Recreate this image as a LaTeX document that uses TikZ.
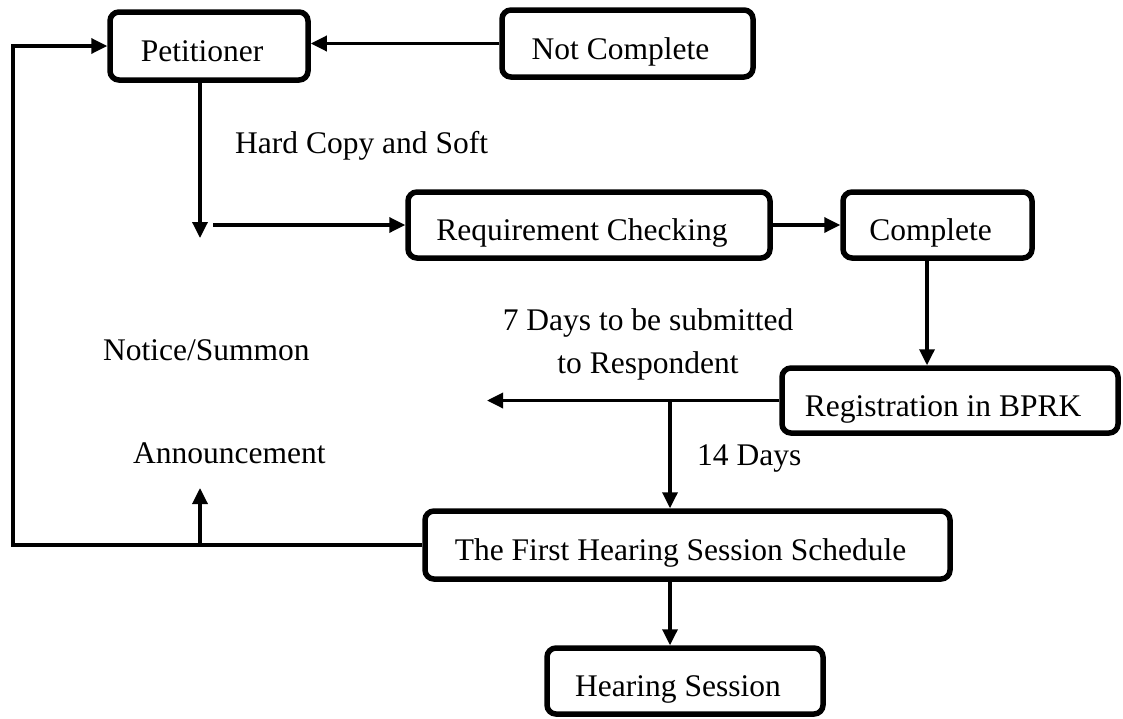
\documentclass[tikz,border=0pt]{standalone}
\usepackage{fontspec}
\setmainfont{Liberation Serif}
\usetikzlibrary{arrows.meta}
\begin{document}
\begin{tikzpicture}[x=1pt,y=-1pt,
  font=\fontsize{31.5}{38}\selectfont,
  stepbox/.style={draw=black, line width=5.5pt, rounded corners=9pt, fill=white,
    inner sep=0pt, text height=31pt, text depth=0pt,
    execute at end node={\kern14pt}},
  arr/.style={line width=3.4pt, -{Triangle[length=16pt,width=15pt]}},
  lbl/.style={inner sep=0pt}]
\useasboundingbox (0,0) rectangle (1123,718);

% boxes
\node[stepbox, minimum width=198pt, minimum height=68pt] (pet)  at (209,46)    {Petitioner};
\node[stepbox, minimum width=251pt, minimum height=67pt] (nc)   at (627.5,43.5) {Not Complete};
\node[stepbox, minimum width=362pt, minimum height=66pt] (rc)   at (589,225)   {Requirement Checking};
\node[stepbox, minimum width=189pt, minimum height=66pt] (comp) at (937.5,225) {Complete};
\node[stepbox, minimum width=336pt, minimum height=65pt] (reg)  at (950,400.5) {Registration in BPRK};
\node[stepbox, minimum width=525pt, minimum height=68pt] (fh)   at (687.5,545) {The First Hearing Session Schedule};
\node[stepbox, minimum width=276pt, minimum height=66pt] (hs)   at (685,681)   {Hearing Session};

% helper coordinates
\coordinate (lx)    at (13,0);
\coordinate (split) at (200,238);
\coordinate (hstart) at (213,225);
\coordinate (cx)    at (927,0);
\coordinate (lend)  at (487,0);
\coordinate (jx)    at (670,0);
\coordinate (ann)   at (200,488);

% connectors
\draw[arr] (nc.west) -- (nc.west -| pet.east);
\draw[arr] (fh.west) -- (fh.west -| lx) |- (pet.west);
\draw[arr] (pet.south -| split) -- (split);
\draw[arr] (hstart) -- (rc.west);
\draw[arr] (rc.east) -- (comp.west);
\draw[arr] (comp.south -| cx) -- (reg.north -| cx);
\draw[arr] (reg.west) -- (reg.west -| lend);
\draw[arr] (reg.west -| jx) -- (fh.north -| jx);
\draw[arr] (fh.south -| jx) -- (hs.north -| jx);
\draw[arr] (ann |- fh.west) -- (ann);

% labels
\node[lbl, anchor=base west] (hc)    at (235,153) {Hard Copy and Soft};
\node[lbl, anchor=base]      (days1) at (648,330) {7 Days to be submitted};
\node[lbl, anchor=base]      (days2) at (648,373) {to Respondent};
\node[lbl, anchor=base west] (ns)    at (103,360) {Notice/Summon};
\node[lbl, anchor=base west] (an)    at (133,463) {Announcement};
\node[lbl, anchor=base west] (fd)    at (697,465) {14 Days};
\end{tikzpicture}
\end{document}
